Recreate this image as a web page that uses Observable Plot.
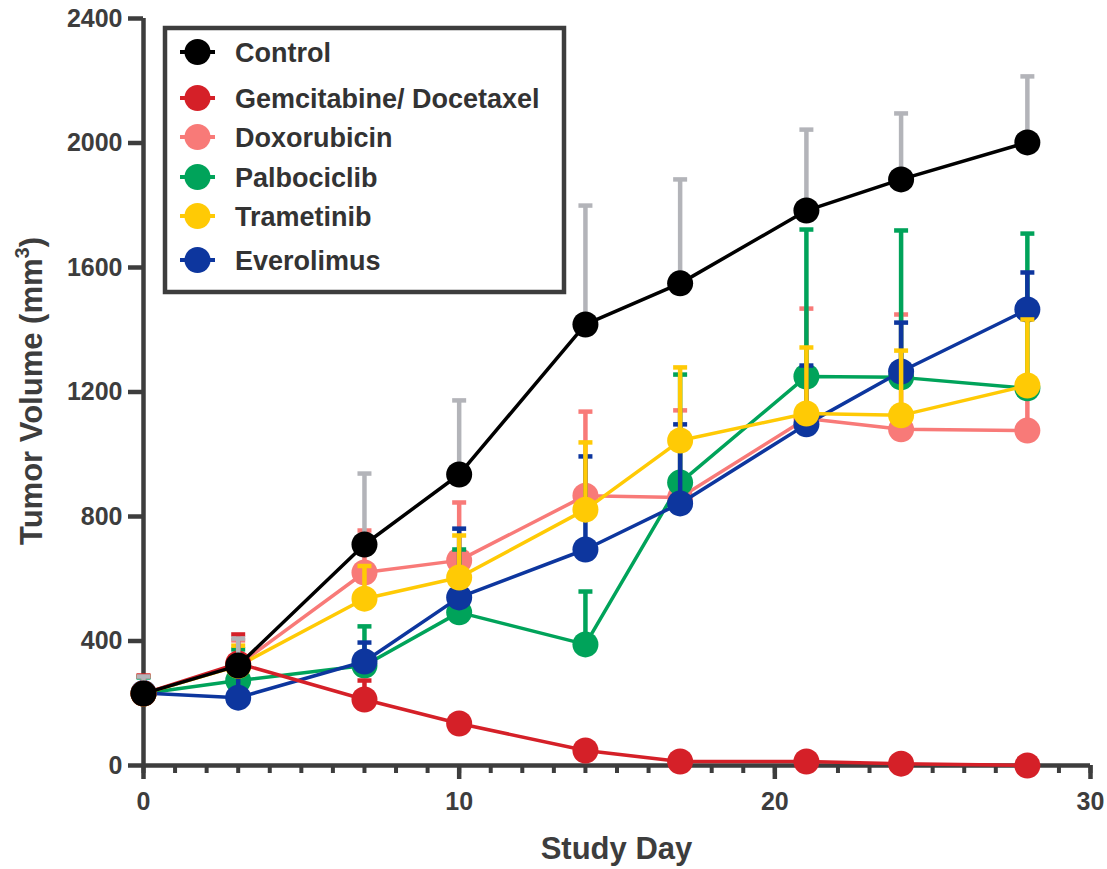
<!DOCTYPE html>
<html>
<head>
<meta charset="utf-8">
<script src="https://cdn.jsdelivr.net/npm/d3@7"></script>
<script src="https://cdn.jsdelivr.net/npm/@observablehq/plot@0.6"></script>
<style>
  body { margin: 0; background: #fff; }
  #chart svg { font-family: "Liberation Sans", Arial, sans-serif; font-weight: bold; }
</style>
</head>
<body>
<div id="chart"></div>
<script>
// ---- data ----
const days = [0, 3, 7, 10, 14, 17, 21, 24, 28];
const seriesNames = ["Control", "Gemcitabine/ Docetaxel", "Doxorubicin", "Palbociclib", "Trametinib", "Everolimus"];
const seriesColors = ["#000000", "#D52028", "#F87A78", "#00A35A", "#FFCA05", "#0D369E"];
const errorColors = ["#B3B4B9", "#D52028", "#F87A78", "#00A35A", "#FFCA05", "#0D369E"];

const controlMean = [231, 321, 710, 935, 1417, 1549, 1783, 1883, 2002];
const controlSem  = [55, 87, 228, 238, 382, 334, 260, 212, 212];
const gemMean     = [231, 328, 212, 135, 48, 13, 13, 6, 0];
const gemSem      = [58, 93, 61, 20, 15, 8, 8, 5, 3];
const doxMean     = [231, 322, 620, 659, 867, 861, 1115, 1080, 1076];
const doxSem      = [56, 80, 135, 186, 270, 280, 353, 369, 144];
const palboMean   = [231, 273, 321, 492, 389, 909, 1250, 1247, 1212];
const palboSem    = [52, 100, 126, 202, 170, 347, 472, 472, 497];
const tramMean    = [231, 320, 536, 604, 822, 1044, 1131, 1125, 1221];
const tramSem     = [56, 65, 105, 135, 216, 235, 212, 208, 212];
const everoMean   = [233, 218, 334, 540, 694, 842, 1096, 1266, 1465];
const everoSem    = [52, 120, 61, 221, 299, 254, 189, 157, 119];

const yTicks = [0, 400, 800, 1200, 1600, 2000, 2400];
const xTicks = [0, 10, 20, 30];
const xMinorTicks = d3.range(0, 31);

const means = [controlMean, gemMean, doxMean, palboMean, tramMean, everoMean];
const sems = [controlSem, gemSem, doxSem, palboSem, tramSem, everoSem];

const data = [];
seriesNames.forEach((name, i) => {
  days.forEach((d, j) => {
    data.push({ series: name, day: d, value: means[i][j], top: means[i][j] + sems[i][j] });
  });
});

// stacking order of the series (bottom to top)
const drawOrder = ["Doxorubicin", "Palbociclib", "Everolimus", "Trametinib", "Gemcitabine/ Docetaxel", "Control"];

const capSymbol = {
  draw(ctx, size) {
    const w = Math.sqrt(size / Math.PI);
    ctx.moveTo(-w, 0);
    ctx.lineTo(w, 0);
  }
};

const axisColor = "#3d3d3d";
const marks = [];
for (const name of drawOrder) {
  const i = seriesNames.indexOf(name);
  const rows = data.filter(r => r.series === name);
  marks.push(Plot.line(rows, { x: "day", y: "value", stroke: seriesColors[i], strokeWidth: 3.5 }));
  marks.push(Plot.ruleX(rows, { x: "day", y1: "value", y2: "top", stroke: errorColors[i], strokeWidth: 4.5 }));
  marks.push(Plot.dot(rows, { x: "day", y: "top", symbol: capSymbol, r: 7, fill: "none", stroke: errorColors[i], strokeWidth: 4.5 }));
  marks.push(Plot.dot(rows, { x: "day", y: "value", r: 13, fill: seriesColors[i], stroke: null }));
}

const plot = Plot.plot({
  width: 1107,
  height: 869,
  marginLeft: 143,
  marginRight: 17,
  marginTop: 18,
  marginBottom: 104,
  style: { color: axisColor, background: "#fff" },
  x: { domain: [0, 30] },
  y: { domain: [0, 2400] },
  marks: [
    Plot.axisY({ ticks: yTicks, tickSize: 15, tickPadding: 6, fontSize: 25, strokeWidth: 4.5, tickFormat: d => String(d), label: null }),
    Plot.axisX({ ticks: xMinorTicks, tickSize: 8, strokeWidth: 4, tickFormat: () => "", label: null }),
    Plot.axisX({ ticks: xTicks, tickSize: 14, tickPadding: 13, fontSize: 25, strokeWidth: 4.5, tickFormat: d => String(d), label: null }),
    Plot.ruleX([0], { stroke: axisColor, strokeWidth: 4.5 }),
    Plot.ruleY([0], { stroke: axisColor, strokeWidth: 4.5 }),
    ...marks
  ]
});

document.getElementById("chart").appendChild(plot);

// ---- axis titles ----
const svg = d3.select(plot);
svg.append("text")
  .attr("x", 616.5).attr("y", 859)
  .attr("text-anchor", "middle")
  .attr("fill", axisColor)
  .style("font-size", "31px")
  .text("Study Day");

const yTitle = svg.append("text")
  .attr("transform", "translate(42,391) rotate(-90)")
  .attr("text-anchor", "middle")
  .attr("fill", axisColor)
  .style("font-size", "31px");
yTitle.append("tspan").text("Tumor Volume (mm");
yTitle.append("tspan").attr("dy", -13).style("font-size", "20px").text("3");
yTitle.append("tspan").attr("dy", 13).text(")");

// ---- legend ----
const legendRowsY = [52, 98, 137, 177, 216, 260];
const lg = svg.append("g");
lg.append("rect")
  .attr("x", 165).attr("y", 28).attr("width", 399).attr("height", 264)
  .attr("fill", "#fff").attr("stroke", axisColor).attr("stroke-width", 4.5);
seriesNames.forEach((name, i) => {
  const cy = legendRowsY[i];
  lg.append("line").attr("x1", 180).attr("x2", 215).attr("y1", cy).attr("y2", cy)
    .attr("stroke", seriesColors[i]).attr("stroke-width", 4);
  lg.append("circle").attr("cx", 197.5).attr("cy", cy).attr("r", 13).attr("fill", seriesColors[i]);
  lg.append("text").attr("x", 235).attr("y", cy).attr("dy", "0.36em")
    .attr("text-anchor", "start")
    .attr("fill", "#333").style("font-size", "27px").text(name);
});
</script>
</body>
</html>
